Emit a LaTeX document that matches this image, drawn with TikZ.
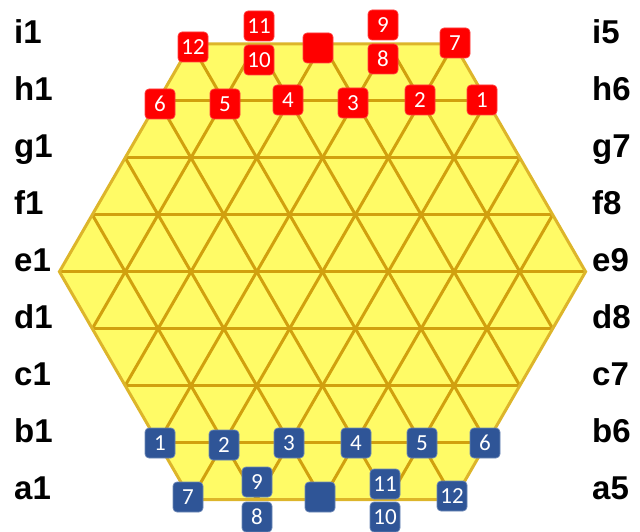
\documentclass[tikz,border=0pt]{standalone}
\usepackage{fontspec}
\setmainfont{Liberation Sans}
\newfontfamily\badgefont{Carlito}
\definecolor{hexfill}{HTML}{FFFB66}
\definecolor{gridcol}{HTML}{D1A00E}
\definecolor{bordercol}{HTML}{DDB52A}
\definecolor{redbadge}{HTML}{FF0000}
\definecolor{bluebadge}{HTML}{2F5597}
\begin{document}
\begin{tikzpicture}[x=1pt,y=-1pt,
  gridline/.style={draw=gridcol,line width=3pt},
  badge/.style={rounded corners=4pt,minimum size=30pt,inner sep=0pt,text=white,
    font=\badgefont\fontsize{23}{23}\selectfont},
  redb/.style={badge,fill=redbadge,draw=redbadge!75!white,line width=0.7pt},
  blueb/.style={badge,fill=bluebadge,draw=bluebadge!70!white,line width=0.7pt},
  rowlabel/.style={inner sep=0pt,font=\bfseries\fontsize{33}{36}\selectfont}]
\useasboundingbox (0,0) rectangle (640,532);
\def\xc{322.5}\def\yc{271.7}\def\u{65.77}\def\h{56.96}
\coordinate (L) at ({\xc-4*\u},{\yc});
\coordinate (TL) at ({\xc-2*\u},{\yc-4*\h});
\coordinate (TR) at ({\xc+2*\u},{\yc-4*\h});
\coordinate (R) at ({\xc+4*\u},{\yc});
\coordinate (BR) at ({\xc+2*\u},{\yc+4*\h});
\coordinate (BL) at ({\xc-2*\u},{\yc+4*\h});
\fill[hexfill] (L) -- (TL) -- (TR) -- (R) -- (BR) -- (BL) -- cycle;
\begin{scope}
  \clip (L) -- (TL) -- (TR) -- (R) -- (BR) -- (BL) -- cycle;
  \foreach \j in {-3,...,3} {
    \draw[gridline] ({\xc+\j*\u-2.5*\u},{\yc-5*\h}) -- ({\xc+\j*\u+2.5*\u},{\yc+5*\h});
    \draw[gridline] ({\xc+\j*\u+2.5*\u},{\yc-5*\h}) -- ({\xc+\j*\u-2.5*\u},{\yc+5*\h});
    \draw[gridline] ({\xc-(8-abs(\j))*\u/2},{\yc+\j*\h}) -- ({\xc+(8-abs(\j))*\u/2},{\yc+\j*\h});
  }
\end{scope}
\draw[draw=bordercol,line width=3pt,line join=miter] (L) -- (TL) -- (TR) -- (R) -- (BR) -- (BL) -- cycle;
% row labels
\foreach \l/\r [count=\k from 0] in {i1/i5,h1/h6,g1/g7,f1/f8,e1/e9,d1/d8,c1/c7,b1/b6,a1/a5} {
  \node[rowlabel,anchor=base west] (left\l) at (14,{\yc+(\k-4)*\h}) {\l};
  \node[rowlabel,anchor=base west] (right\r) at (592,{\yc+(\k-4)*\h}) {\r};
}
% red badges
\node[redb] (r6) at (160,104) {6};
\node[redb] (r5) at (225,104) {5};
\node[redb] (r4) at (288,100) {4};
\node[redb] (r3) at (353,103) {3};
\node[redb] (r2) at (420,100) {2};
\node[redb] (r1) at (482,100) {1};
\node[redb] (r12) at (193,47) {12};
\node[redb] (r11) at (259,26) {11};
\node[redb] (r10) at (259,60) {10};
\node[redb] (r0) at (318,48) {};
\node[redb] (r9) at (383,25) {9};
\node[redb] (r8) at (383,59) {8};
\node[redb] (r7) at (455,43) {7};
% blue badges
\node[blueb] (b1) at (160,443) {1};
\node[blueb] (b2) at (224,445) {2};
\node[blueb] (b3) at (289,443) {3};
\node[blueb] (b4) at (356,443) {4};
\node[blueb] (b5) at (422,443) {5};
\node[blueb] (b6) at (485,443) {6};
\node[blueb] (b7) at (188,497) {7};
\node[blueb] (b9) at (257,482) {9};
\node[blueb] (b8) at (257,517) {8};
\node[blueb] (b0) at (320,497) {};
\node[blueb] (b11) at (385,484) {11};
\node[blueb] (b10) at (385,517) {10};
\node[blueb] (b12) at (452,496) {12};
\end{tikzpicture}
\end{document}
